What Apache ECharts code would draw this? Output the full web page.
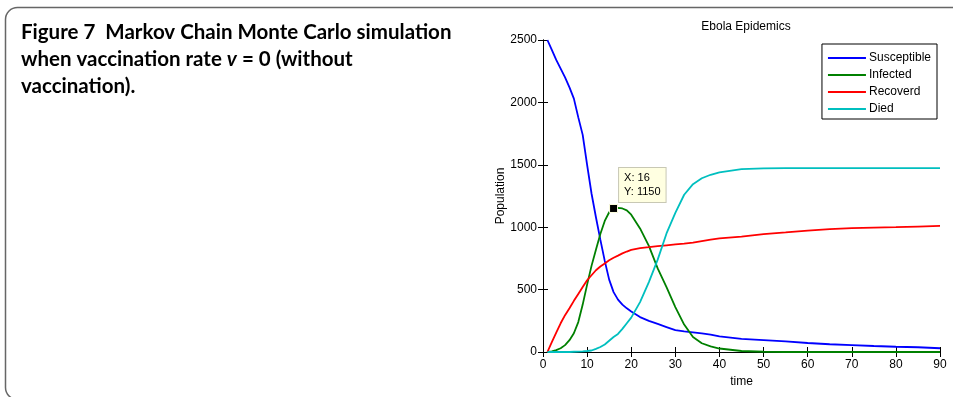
<!DOCTYPE html>
<html>
<head>
<meta charset="utf-8">
<script src="https://cdn.jsdelivr.net/npm/echarts@6/dist/echarts.min.js"></script>
<style>
  html, body { margin: 0; padding: 0; background: #fff; }
  #container { width: 953px; height: 397px; }
</style>
</head>
<body>
<div id="container"></div>
<script>
// time points
var times = [1,2,3,4,5,6,7,8,9,10,11,12,13,14,15,16,17,18,19,20,22,24,26,28,30,32,34,36,38,40,45,50,55,60,65,70,75,80,85,90];

var susceptible = [2500,2420,2340,2270,2200,2120,2030,1880,1740,1500,1270,1080,900,730,580,480,420,380,350,325,280,250,225,200,175,165,158,150,140,125,105,95,85,72,62,55,48,42,38,30];
var infected = [0,5,15,30,55,95,150,240,380,540,690,820,945,1050,1120,1150,1155,1150,1135,1100,990,850,670,520,360,220,120,70,45,28,8,2,0,0,0,0,0,0,0,0];
var recovered = [0,80,155,230,295,350,410,465,520,575,615,655,685,710,735,755,772,790,805,818,833,840,848,855,862,868,876,888,900,910,925,945,958,972,985,993,997,1000,1005,1010];
var died = [0,0,0,0,0,0,2,3,5,8,12,25,40,60,90,120,145,185,230,275,400,560,740,950,1115,1260,1345,1392,1420,1440,1465,1472,1474,1474,1474,1474,1474,1474,1474,1474];

var tipPoint = [16, 1150];

function pairs(vals) {
    return vals.map(function (v, i) { return [times[i], v]; });
}

var dom = document.getElementById("container");
var myChart = echarts.init(dom);

var axisFont = { color: '#000', fontFamily: 'Liberation Sans', fontSize: 12 };

function lineSeries(name, vals, color) {
    return {
        name: name,
        type: 'line',
        data: pairs(vals),
        symbol: 'none',
        lineStyle: { color: color, width: 1.8 },
        itemStyle: { color: color },
        animation: false
    };
}

var series = [
    lineSeries('Susceptible', susceptible, '#0000ff'),
    lineSeries('Infected', infected, '#008000'),
    lineSeries('Recoverd', recovered, '#ff0000'),
    lineSeries('Died', died, '#00bfbf')
];
// MATLAB data tip on the infected peak
series[1].markPoint = {
    symbol: 'rect',
    symbolSize: 8,
    itemStyle: { color: '#000', borderColor: '#ffffe1', borderWidth: 1 },
    data: [{ coord: tipPoint }],
    label: {
        show: true,
        position: [10, -36],
        formatter: 'X: ' + tipPoint[0] + '\nY: ' + tipPoint[1],
        backgroundColor: '#ffffe1',
        borderColor: '#c8c8b4',
        borderWidth: 1,
        padding: [3, 5, 3, 5],
        lineHeight: 14,
        color: '#000',
        fontFamily: 'Liberation Sans',
        fontSize: 11
    }
};

var option = {
    backgroundColor: '#fff',
    animation: false,
    title: {
        text: 'Ebola Epidemics',
        left: 741,
        textAlign: 'center',
        top: 16,
        textStyle: { color: '#000', fontFamily: 'Liberation Sans', fontSize: 12, fontWeight: 'normal' }
    },
    legend: {
        orient: 'vertical',
        right: 16,
        top: 44,
        padding: [7, 6, 3, 6],
        icon: 'rect',
        itemWidth: 38,
        itemHeight: 2,
        itemGap: 3,
        borderColor: '#000',
        borderWidth: 1,
        borderRadius: 0,
        backgroundColor: '#fff',
        textStyle: { color: '#000', fontFamily: 'Liberation Sans', fontSize: 12, lineHeight: 14, padding: [0, 0, 0, -2] },
        data: ['Susceptible', 'Infected', 'Recoverd', 'Died']
    },
    grid: { left: 543, right: 13, top: 40, bottom: 45 },
    xAxis: [
        {
            type: 'value', min: 0, max: 90, interval: 10,
            name: 'time', nameLocation: 'middle', nameGap: 16,
            nameTextStyle: axisFont,
            axisLine: { lineStyle: { color: '#000' } },
            axisTick: { inside: true, length: 5, lineStyle: { color: '#000' } },
            axisLabel: Object.assign({ margin: 7 }, axisFont),
            splitLine: { show: false }
        },
        {
            type: 'value', min: 0, max: 90, interval: 10, position: 'top',
            axisLine: { show: true, lineStyle: { color: '#000' } },
            axisTick: { inside: true, length: 5, lineStyle: { color: '#000' } },
            axisLabel: { show: false },
            splitLine: { show: false }
        }
    ],
    yAxis: [
        {
            type: 'value', min: 0, max: 2500, interval: 500,
            name: 'Population', nameLocation: 'middle', nameGap: 25,
            nameTextStyle: axisFont,
            axisLine: { show: true, lineStyle: { color: '#000' } },
            axisTick: { show: true, inside: true, length: 5, lineStyle: { color: '#000' } },
            axisLabel: Object.assign({ margin: 6, formatter: function (v) { return String(v); } }, axisFont),
            splitLine: { show: false }
        },
        {
            type: 'value', min: 0, max: 2500, interval: 500, position: 'right',
            axisLine: { show: true, lineStyle: { color: '#000' } },
            axisTick: { show: true, inside: true, length: 5, lineStyle: { color: '#000' } },
            axisLabel: { show: false },
            splitLine: { show: false }
        }
    ],
    graphic: [
        {
            type: 'rect',
            shape: { x: 5.5, y: 7.5, width: 1000, height: 392, r: 12 },
            style: { fill: 'none', stroke: '#666', lineWidth: 1.5 },
            z: -1
        },
        {
            type: 'text',
            left: 21,
            top: 19,
            style: {
                text: 'Figure 7  Markov Chain Monte Carlo simulation\nwhen vaccination rate {i|v} = 0 (without\nvaccination).',
                fill: '#000',
                font: 'bold 20.5px Lato',
                lineHeight: 27,
                rich: {
                    i: { fontStyle: 'italic', fontWeight: 'bold', fontSize: 20.5, fontFamily: 'Lato', lineHeight: 27 }
                }
            }
        }
    ],
    series: series
};

myChart.setOption(option, true);
</script>
</body>
</html>
